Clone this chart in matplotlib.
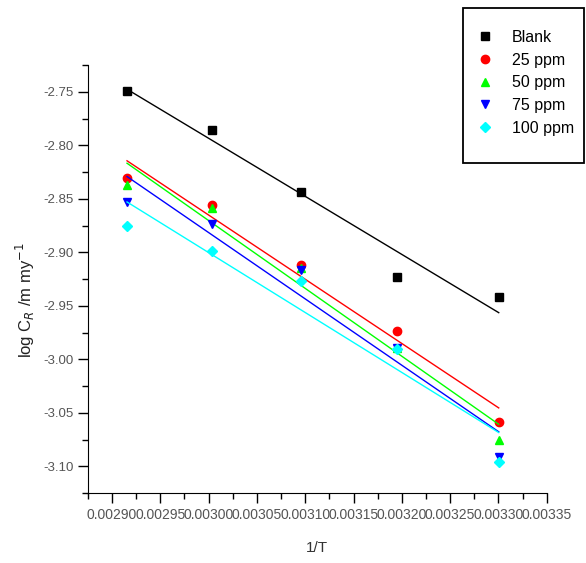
import matplotlib
matplotlib.use("Agg")
import matplotlib.pyplot as plt
import numpy as np
from matplotlib.patches import Rectangle
from matplotlib.ticker import MultipleLocator, FormatStrFormatter

plt.rcParams['font.family'] = ['Liberation Sans', 'DejaVu Sans']

inv_T = [0.0029155, 0.0030030, 0.0030960, 0.0031949, 0.0033003]
blank = [-2.749, -2.786, -2.844, -2.923, -2.942]
ppm25 = [-2.831, -2.856, -2.912, -2.974, -3.059]
ppm50 = [-2.837, -2.859, -2.915, -2.989, -3.075]
ppm75 = [-2.853, -2.874, -2.917, -2.989, -3.091]
ppm100 = [-2.875, -2.899, -2.927, -2.990, -3.096]

series = [
    ("Blank", blank, "black", "s"),
    ("25 ppm", ppm25, "red", "o"),
    ("50 ppm", ppm50, "#00ff00", "^"),
    ("75 ppm", ppm75, "blue", "v"),
    ("100 ppm", ppm100, "cyan", "D"),
]

W, H = 586, 563
fig = plt.figure(figsize=(W / 100, H / 100), dpi=100)
ax = fig.add_axes([0.150, 0.1243, 0.783, 0.7602])

x = np.array(inv_T)
handles = []
for name, vals, col, mk in series:
    h, = ax.plot(x, vals, linestyle="none", marker=mk, color=col,
                 markersize=6 if mk != "D" else 5, label=name)
    handles.append(h)
    # linear fit through each series
    k, b = np.polyfit(x, vals, 1)
    xx = np.array([x[0], x[-1]])
    ax.plot(xx, k * xx + b, color=col, lw=1)

ax.set_xlim(0.002875, 0.00335)
ax.set_ylim(-3.125, -2.725)
ax.spines['top'].set_visible(False)
ax.spines['right'].set_visible(False)
ax.xaxis.set_major_locator(MultipleLocator(0.00005))
ax.xaxis.set_minor_locator(MultipleLocator(0.000025))
ax.yaxis.set_major_locator(MultipleLocator(0.05))
ax.yaxis.set_minor_locator(MultipleLocator(0.025))
ax.xaxis.set_major_formatter(FormatStrFormatter("%.5f"))
ax.yaxis.set_major_formatter(FormatStrFormatter("%.2f"))
ax.tick_params(which="major", direction="out", length=7, width=1,
               labelcolor="#555555")
ax.tick_params(which="minor", direction="out", length=4, width=1)
ax.tick_params(axis="x", labelsize=10)
ax.tick_params(axis="y", labelsize=9.5)
ax.set_xlabel("1/T", fontsize=11, color="#333333", labelpad=14)
ax.set_ylabel(r"log C$_R$ /m my$^{-1}$", fontsize=12, color="#222222")
ax.yaxis.set_label_coords(-0.11, 0.45)

# legend box drawn separately so the padding can match
fig.patches.append(Rectangle((463 / W, 1 - 163 / H), 121 / W, 155 / H,
                             transform=fig.transFigure, fill=False,
                             edgecolor="black", lw=1.3))
fig.legend(handles=handles, loc="upper left",
           bbox_to_anchor=(475 / W, 1 - 30 / H), fontsize=11.5,
           frameon=False, handlelength=1.2, handletextpad=1.1,
           borderpad=0, labelspacing=0.48, borderaxespad=0)

fig.savefig("out.png", dpi=100)
